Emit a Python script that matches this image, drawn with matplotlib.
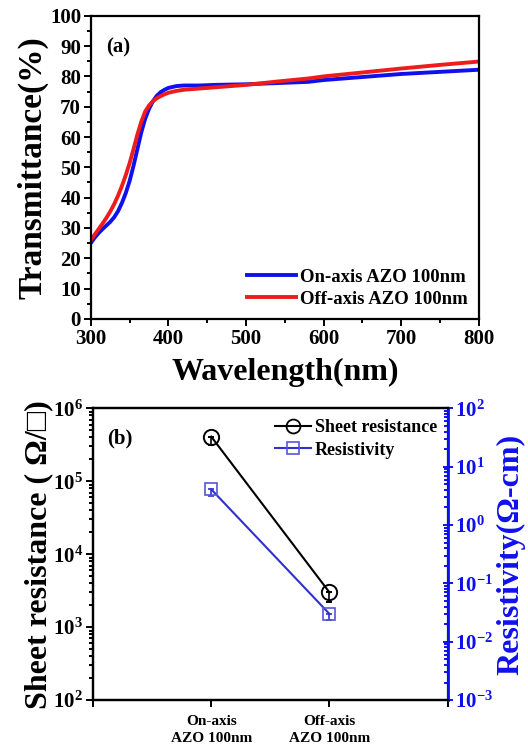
import numpy as np
import matplotlib
matplotlib.use('Agg')
import matplotlib.pyplot as plt
from matplotlib.lines import Line2D
from matplotlib.ticker import MultipleLocator, LogLocator, NullFormatter

plt.rcParams['font.family'] = ['Liberation Serif', 'DejaVu Serif']
plt.rcParams['font.weight'] = 'bold'
plt.rcParams['mathtext.fontset'] = 'custom'
plt.rcParams['mathtext.rm'] = 'Liberation Serif:bold'
plt.rcParams['mathtext.bf'] = 'Liberation Serif:bold'
plt.rcParams['axes.linewidth'] = 1.6

# (a) transmittance spectra
wl_on = [300, 305, 310, 315, 320, 325, 330, 335, 340, 345, 350, 355, 360, 365, 370, 375, 380,
         385, 390, 395, 400, 410, 420, 440, 460, 500, 540, 580, 600, 650, 700, 750, 800]
t_on = [25.0, 26.8, 28.3, 29.6, 30.8, 32.0, 33.5, 35.5, 38.2, 41.5, 45.5, 50.5, 56.0, 61.5, 66.0,
        69.3, 71.8, 73.6, 74.8, 75.6, 76.2, 76.8, 77.0, 77.0, 77.2, 77.4, 77.8, 78.2, 78.8, 79.8,
        80.8, 81.5, 82.2]
wl_off = [300, 305, 310, 315, 320, 325, 330, 335, 340, 345, 350, 355, 360, 365, 370, 375, 380,
          385, 390, 395, 400, 410, 420, 440, 460, 500, 540, 580, 600, 650, 700, 750, 800]
t_off = [26.0, 27.8, 29.6, 31.4, 33.3, 35.4, 37.8, 40.6, 43.8, 47.4, 51.4, 56.0, 60.8, 65.0, 68.4,
         70.4, 71.8, 72.8, 73.5, 74.1, 74.6, 75.2, 75.6, 76.0, 76.4, 77.2, 78.3, 79.3, 80.0, 81.3,
         82.6, 83.8, 84.9]

# (b) sheet resistance and resistivity
samples = ['On-axis\nAZO 100nm', 'Off-axis\nAZO 100nm']
sheet_res = [4.1e5, 3.0e3]
sheet_err = [1.0e5, 8.0e2]
resistivity = [4.1, 0.030]
resist_err = [0.9, 0.006]

blue = '#1010ee'
fig = plt.figure(figsize=(5.28, 7.52), dpi=100)

ax1 = fig.add_axes([0.172, 0.576, 0.735, 0.403])
ax1.plot(wl_on, t_on, color=blue, lw=2.8, label='On-axis AZO 100nm')
ax1.plot(wl_off, t_off, color='#ee1c1c', lw=2.8, label='Off-axis AZO 100nm')
ax1.set_xlim(300, 800)
ax1.set_ylim(0, 100)
ax1.xaxis.set_major_locator(MultipleLocator(100))
ax1.xaxis.set_minor_locator(MultipleLocator(50))
ax1.yaxis.set_major_locator(MultipleLocator(10))
ax1.yaxis.set_minor_locator(MultipleLocator(5))
ax1.tick_params(which='both', direction='out', top=False, right=False, labelsize=15, width=1.4, pad=2)
ax1.tick_params(which='major', length=5)
ax1.tick_params(which='minor', length=3)
ax1.set_xlabel('Wavelength(nm)', fontsize=23, fontweight='bold', labelpad=7)
ax1.set_ylabel('Transmittance(%)', fontsize=24, fontweight='bold', labelpad=1)
ax1.text(0.04, 0.93, '(a)', transform=ax1.transAxes, fontsize=15, fontweight='bold', va='top')
ax1.legend(loc='lower right', frameon=False, fontsize=13.5, handlelength=2.6,
           handletextpad=0.2, labelspacing=0.25, borderaxespad=0.2)

ax2 = fig.add_axes([0.176, 0.069, 0.672, 0.388])
ax3 = ax2.twinx()
x = np.arange(1, len(samples) + 1)
ax2.errorbar(x, sheet_res, yerr=[sheet_err, [0, 0]], color='black', lw=1.5, marker='o',
             ms=11, mfc='none', mec='black', mew=1.4, capsize=2.5, elinewidth=1.2)
ax3.errorbar(x, resistivity, yerr=[resist_err, [0, 0]], color='#3030cc', lw=1.5, marker='s',
             ms=9, mfc='none', mec='#5555dd', mew=1.2, capsize=2.5, elinewidth=1.2)
ax2.set_yscale('log')
ax3.set_yscale('log')
ax2.set_ylim(1e2, 1e6)
ax3.set_ylim(1e-3, 1e2)
ax2.set_xlim(0, 3)
ax2.set_xticks([0, 1, 2, 3])
ax2.set_xticklabels([''] + samples + [''], fontsize=11, linespacing=1.35)
ax2.yaxis.set_major_locator(LogLocator(base=10, numticks=10))
ax2.yaxis.set_minor_locator(LogLocator(base=10, subs=np.arange(2, 10), numticks=10))
ax2.yaxis.set_minor_formatter(NullFormatter())
ax3.yaxis.set_major_locator(LogLocator(base=10, numticks=10))
ax3.yaxis.set_minor_locator(LogLocator(base=10, subs=np.arange(2, 10), numticks=10))
ax3.yaxis.set_minor_formatter(NullFormatter())
ax2.tick_params(which='both', direction='out', top=False, labelsize=15, width=1.4, pad=2)
ax2.tick_params(axis='x', labelsize=11, pad=6)
ax2.tick_params(which='major', length=5)
ax2.tick_params(which='minor', length=3)
ax3.tick_params(axis='y', which='both', colors=blue, labelsize=15, width=1.4, pad=2)
ax3.tick_params(axis='y', which='major', direction='inout', length=7)
ax3.tick_params(axis='y', which='minor', direction='in', length=3)
ax3.spines['right'].set_color(blue)
ax3.spines['right'].set_linewidth(2.0)
ax2.set_ylabel('Sheet resistance ( Ω/□)', fontsize=23, fontweight='bold', labelpad=0)
ax3.set_ylabel('Resistivity(Ω-cm)', fontsize=23, fontweight='bold', color=blue, labelpad=2)
ax2.text(0.04, 0.93, '(b)', transform=ax2.transAxes, fontsize=15, fontweight='bold', va='top')
h1 = Line2D([], [], color='black', lw=1.5, marker='o', ms=10, mfc='none', mec='black', mew=1.3)
h2 = Line2D([], [], color='#3030cc', lw=1.5, marker='s', ms=9, mfc='none', mec='#5555dd', mew=1.2)
ax2.legend([h1, h2], ['Sheet resistance', 'Resistivity'], loc='upper right', frameon=False,
           fontsize=13, handlelength=2.0, handletextpad=0.2, labelspacing=0.3,
           borderaxespad=0.2)

fig.savefig('out.png', dpi=100)
